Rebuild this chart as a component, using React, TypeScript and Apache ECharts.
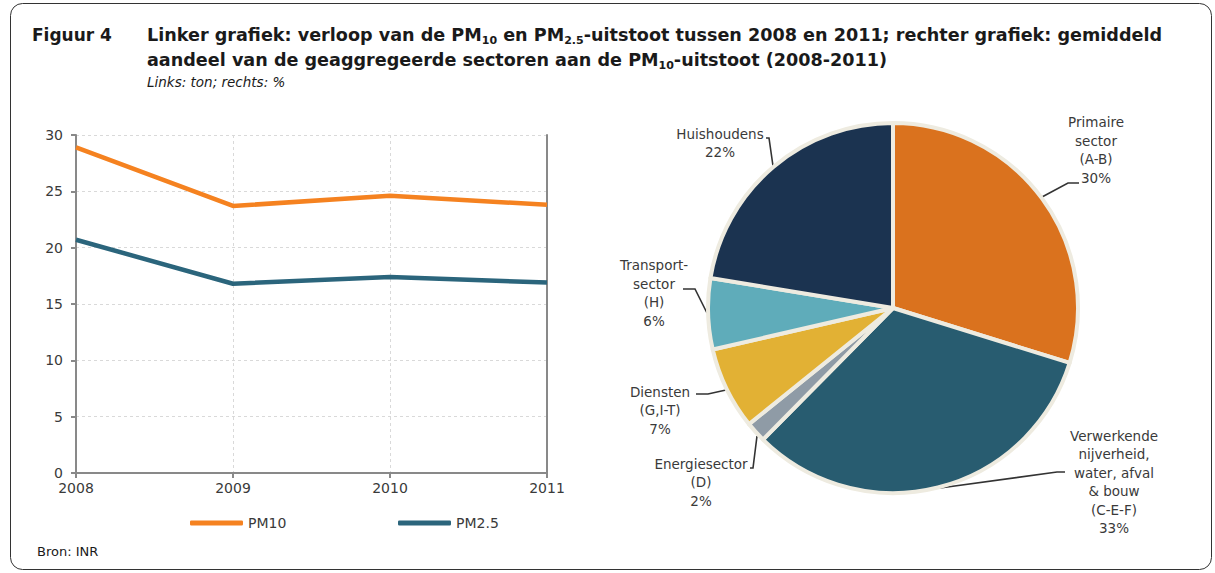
import React, { useEffect, useRef } from "react";
import * as echarts from "echarts";

// ---------- data ----------
const years = ["2008", "2009", "2010", "2011"];
const pm10 = [28.9, 23.7, 24.6, 23.8];
const pm25 = [20.7, 16.8, 17.4, 16.9];
const yMin = 0;
const yMax = 30;
const yStep = 5;

const sectorNames = [
  "Primaire\nsector\n(A-B)",
  "Verwerkende\nnijverheid,\nwater, afval\n& bouw\n(C-E-F)",
  "Energiesector\n(D)",
  "Diensten\n(G,I-T)",
  "Transport-\nsector\n(H)",
  "Huishoudens",
];
const sectorShares = [29.8, 32.6, 1.8, 7.2, 6.2, 22.4];
const sectorColors = ["#DA721E", "#285C70", "#8F9BA6", "#E2B134", "#5FACBA", "#1B3350"];

// ---------- layout (label anchors & leader lines of the pie) ----------
const labelAnchors: number[][] = [
  [1096, 150],
  [1114, 482],
  [701, 482],
  [660, 410],
  [654, 293],
  [720, 143],
];
const labelLines: number[][][] = [
  [[1042, 197], [1068, 183], [1079, 183]],
  [[940, 488], [1057, 472], [1065, 472]],
  [[757, 436], [753, 468], [750, 468]],
  [[726, 390], [708, 394], [696, 394]],
  [[707, 313], [695, 289], [683, 289]],
  [[773, 166], [769, 138], [766, 138]],
];

const FONT = "DejaVu Sans";
const TXT = "#3a3a3a";
const AXIS = "#898989";

export default function App() {
  const ref = useRef<HTMLDivElement>(null);

  useEffect(() => {
    document.body.style.margin = "0";
    const chart = echarts.init(ref.current!, null, { renderer: "svg" });

    const subRich = {
      s: { font: `bold 11px ${FONT}`, fill: "#1a1a1a", lineHeight: 13, verticalAlign: "bottom" },
    };

    const option: any = {
      animation: false,
      textStyle: { fontFamily: FONT },
      graphic: [
        {
          type: "rect",
          shape: { x: 10.5, y: 3.5, width: 1201, height: 566, r: 12 },
          style: { fill: "none", stroke: "#333", lineWidth: 1 },
          silent: true,
        },
        {
          type: "text",
          x: 32,
          y: 35,
          style: {
            text: "Figuur 4",
            font: `bold 17px ${FONT}`,
            fill: "#1a1a1a",
            verticalAlign: "middle",
          },
        },
        {
          type: "text",
          x: 147,
          y: 24,
          style: {
            text:
              "Linker grafiek: verloop van de PM{s|10} en PM{s|2.5}-uitstoot tussen 2008 en 2011; rechter grafiek: gemiddeld",
            font: `bold 17.6px ${FONT}`,
            fill: "#1a1a1a",
            lineHeight: 22,
            verticalAlign: "top",
            rich: subRich,
          },
        },
        {
          type: "text",
          x: 147,
          y: 49,
          style: {
            text: "aandeel van de geaggregeerde sectoren aan de PM{s|10}-uitstoot (2008-2011)",
            font: `bold 17.6px ${FONT}`,
            fill: "#1a1a1a",
            lineHeight: 22,
            verticalAlign: "top",
            rich: subRich,
          },
        },
        {
          type: "text",
          x: 147,
          y: 82,
          style: {
            text: "Links: ton; rechts: %",
            font: `italic 13.5px ${FONT}`,
            fill: "#1a1a1a",
            verticalAlign: "middle",
          },
        },
        {
          type: "text",
          x: 37,
          y: 551,
          style: {
            text: "Bron: INR",
            font: `13px ${FONT}`,
            fill: "#1a1a1a",
            verticalAlign: "middle",
          },
        },
      ],
      legend: [
        {
          data: ["PM10"],
          left: 190,
          top: 516,
          padding: 0,
          icon: "roundRect",
          itemWidth: 53,
          itemHeight: 5,
          selectedMode: false,
          textStyle: { fontFamily: FONT, fontSize: 14, color: TXT },
        },
        {
          data: ["PM2.5"],
          left: 398,
          top: 516,
          padding: 0,
          icon: "roundRect",
          itemWidth: 53,
          itemHeight: 5,
          selectedMode: false,
          textStyle: { fontFamily: FONT, fontSize: 14, color: TXT },
        },
      ],
      grid: {
        left: 76,
        top: 135,
        width: 471,
        height: 338,
        show: false,
      },
      xAxis: [
        {
          type: "category",
          data: years,
          boundaryGap: false,
          axisLine: { lineStyle: { color: AXIS, width: 2 } },
          axisTick: { show: true, length: 5, lineStyle: { color: AXIS, width: 2 } },
          axisLabel: { color: TXT, fontSize: 14, lineHeight: 14, fontFamily: FONT, margin: 8 },
          splitLine: { show: true, lineStyle: { color: "#d9d9d9", type: [3, 3], width: 1 } },
        },
        {
          type: "category",
          data: years,
          position: "top",
          boundaryGap: false,
          axisLine: { show: true, lineStyle: { color: AXIS, width: 2 } },
          axisTick: { show: false },
          axisLabel: { show: false },
          splitLine: { show: false },
        },
      ],
      yAxis: [
        {
          type: "value",
          min: yMin,
          max: yMax,
          interval: yStep,
          axisLine: { show: true, lineStyle: { color: AXIS, width: 2 } },
          axisTick: { show: true, length: 5, lineStyle: { color: AXIS, width: 2 } },
          axisLabel: { color: TXT, fontSize: 14, lineHeight: 13, fontFamily: FONT, margin: 13 },
          splitLine: { show: true, lineStyle: { color: "#d9d9d9", type: [3, 3], width: 1 } },
        },
        {
          type: "value",
          min: yMin,
          max: yMax,
          interval: yStep,
          position: "right",
          axisLine: { show: true, lineStyle: { color: AXIS, width: 2 } },
          axisTick: { show: false },
          axisLabel: { show: false },
          splitLine: { show: false },
        },
      ],
      series: [
        {
          name: "PM10",
          type: "line",
          data: pm10,
          symbol: "none",
          color: "#F58220",
          lineStyle: { color: "#F58220", width: 4.5 },
          silent: true,
          z: 3,
        },
        {
          name: "PM2.5",
          type: "line",
          data: pm25,
          symbol: "none",
          color: "#2B657C",
          lineStyle: { color: "#2B657C", width: 4.5 },
          silent: true,
          z: 3,
        },
        {
          name: "Aandeel",
          type: "pie",
          center: [893, 308],
          radius: 185,
          startAngle: 90,
          clockwise: true,
          silent: true,
          avoidLabelOverlap: false,
          data: sectorNames.map((n, i) => ({
            name: n,
            value: sectorShares[i],
            itemStyle: { color: sectorColors[i] },
          })),
          itemStyle: { borderColor: "#EEEBE0", borderWidth: 4 },
          label: {
            show: true,
            position: "outside",
            color: TXT,
            fontFamily: FONT,
            fontSize: 13.5,
            lineHeight: 18.5,
            align: "center",
            formatter: (p: any) => `${p.name}\n${Math.round(p.value)}%`,
          },
          labelLine: { show: true, lineStyle: { color: "#333", width: 1.6 } },
          labelLayout: (p: any) => {
            const i = p.dataIndex;
            return {
              x: labelAnchors[i][0],
              y: labelAnchors[i][1],
              align: "center",
              verticalAlign: "middle",
              labelLinePoints: labelLines[i],
            };
          },
          emphasis: { disabled: true },
        },
      ],
    };

    chart.setOption(option);
    return () => chart.dispose();
  }, []);

  return <div ref={ref} style={{ width: 1215, height: 573 }} />;
}
